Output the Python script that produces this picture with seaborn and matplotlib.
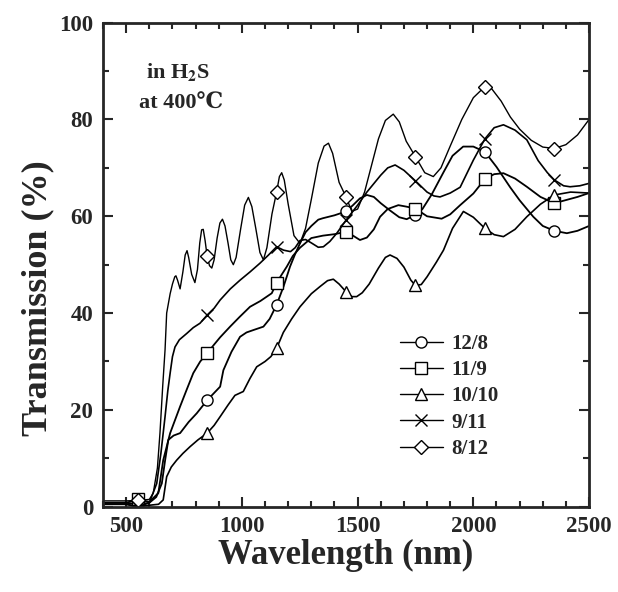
import numpy as np
import pandas as pd
import seaborn as sns
import matplotlib
matplotlib.use("Agg")
import matplotlib.pyplot as plt
from matplotlib.lines import Line2D
from matplotlib.ticker import MultipleLocator

# Transmission spectra in H2S at 400 C
marker_wl = [550, 850, 1150, 1450, 1750, 2050, 2350]

wl_12_8 = [400, 500, 550, 600, 630, 654, 668, 682, 705, 733, 770, 805, 850, 880, 906, 920, 955,
           992, 1020, 1050, 1093, 1120, 1150, 1180, 1208, 1230, 1251, 1275, 1300, 1330, 1350,
           1400, 1450, 1480, 1510, 1540, 1570, 1600, 1640, 1680, 1712, 1750, 1780, 1820, 1870,
           1910, 1956, 2000, 2050, 2100, 2159, 2200, 2259, 2300, 2350, 2404, 2450, 2500]
tr_12_8 = [0.8, 0.8, 0.5, 0.8, 2, 4.8, 9.5, 13.8, 14.7, 15.2, 17.5, 19.3, 22, 23.5, 24.8, 28.2, 32,
           35.1, 36, 36.5, 37.2, 38.8, 41.7, 45.5, 49.6, 52.2, 54.4, 56.7, 58, 59.3, 59.6,
           60.2, 61, 62.3, 63.7, 64.4, 64, 62.7, 61.2, 59.8, 59.4, 60.3, 61.5, 64.5, 69,
           72.5, 74.4, 74.4, 73.3, 70.2, 66, 63.3, 59.9, 58, 57, 56.5, 57, 58]

wl_11_9 = [400, 500, 550, 600, 639, 660, 690, 733, 760, 790, 820, 850, 880, 906, 949, 990, 1035,
           1080, 1129, 1150, 1170, 1194, 1220, 1251, 1300, 1350, 1400, 1450, 1480, 1510, 1540,
           1570, 1597, 1630, 1676, 1710, 1750, 1800, 1863, 1900, 1943, 2000, 2050, 2090, 2130,
           2180, 2231, 2290, 2350, 2404, 2450, 2500]
tr_11_9 = [0.8, 0.8, 1.5, 1.0, 2.8, 9.6, 15.2, 20.7, 24, 27.6, 30, 31.7, 33.5, 35, 37.2, 39.2, 41.3,
           42.5, 44.1, 46.2, 47.8, 49.6, 51.8, 53.5, 55.5, 56, 56.3, 56.8, 56, 55.1, 55.6,
           57.3, 59.9, 61.5, 62.3, 62, 61.6, 60, 59.5, 60.4, 62.3, 64.7, 67.7, 68.7, 68.9,
           67.8, 66.1, 64, 62.7, 63.4, 64, 64.8]

wl_10_10 = [400, 500, 550, 600, 640, 660, 675, 695, 718, 745, 776, 810, 850, 880, 906, 940, 970,
            1006, 1035, 1064, 1100, 1125, 1150, 1179, 1215, 1251, 1300, 1338, 1370, 1395, 1420,
            1450, 1475, 1496, 1520, 1550, 1590, 1620, 1640, 1670, 1700, 1730, 1750, 1775, 1800,
            1840, 1871, 1910, 1957, 2000, 2050, 2090, 2130, 2180, 2231, 2290, 2350, 2420, 2500]
tr_10_10 = [0.5, 0.5, 0, 0.3, 0.5, 1.4, 6.2, 8.2, 9.6, 11, 12.4, 13.8, 15.2, 16.8, 18.6, 21, 23,
            23.8, 26.5, 28.9, 30, 31, 32.7, 36, 38.8, 41.3, 44, 45.5, 46.7, 47, 46,
            44.4, 43.4, 43.4, 44.2, 46, 49.3, 51.5, 52, 51.3, 49.5, 46.8, 45.7, 45.9, 47.5,
            50.5, 53, 57.5, 61, 59.8, 57.5, 56.2, 55.8, 57.3, 59.9, 62.5, 64.4, 65, 64.8]

wl_9_11 = [400, 500, 550, 600, 632, 650, 668, 680, 690, 700, 711, 730, 762, 790, 819, 850, 880,
           906, 950, 992, 1035, 1078, 1115, 1150, 1180, 1210, 1230, 1251, 1275, 1300, 1330, 1352,
           1380, 1410, 1450, 1500, 1540, 1600, 1630, 1662, 1700, 1750, 1800, 1830, 1856, 1900,
           1943, 2000, 2050, 2090, 2130, 2180, 2231, 2280, 2320, 2350, 2390, 2418, 2460, 2500]
tr_9_11 = [0.5, 0.5, 0, 0.8, 4.8, 11, 18.6, 24, 27.6, 31, 33, 34.5, 35.8, 37, 37.9, 39.6, 41,
           42.7, 45, 46.8, 48.5, 50.3, 52, 53.7, 53, 52.7, 53.5, 55, 55.2, 54.5, 53.6, 53.7,
           54.8, 56.5, 59.2, 62.3, 65, 68.5, 70, 70.6, 69.5, 67.3, 65, 64.2, 64, 64.8,
           66, 71.6, 76, 78.3, 78.9, 77.8, 75.8, 71.5, 69, 67.5, 66.3, 66.1, 66.3, 66.8]

wl_8_12 = [400, 500, 550, 600, 617, 635, 646, 658, 668, 675, 690, 700, 710, 715, 722, 733, 745,
           755, 763, 770, 783, 797, 808, 818, 826, 833, 841, 850, 860, 870, 880, 893, 905, 916,
           927, 940, 952, 963, 975, 995, 1012, 1028, 1043, 1060, 1078, 1093, 1108, 1130, 1150,
           1162, 1172, 1183, 1200, 1225, 1251, 1275, 1300, 1330, 1355, 1374, 1392, 1420, 1450,
           1475, 1500, 1530, 1560, 1590, 1620, 1654, 1680, 1710, 1750, 1790, 1827, 1860, 1900,
           1950, 2000, 2050, 2080, 2120, 2160, 2200, 2250, 2300, 2350, 2400, 2450, 2500]
tr_8_12 = [1.2, 1.2, 1.3, 1.5, 2.8, 8, 15.2, 25, 32.4, 40, 44, 46, 47.5, 47.7, 46.8, 45, 48.5,
           52, 52.9, 51.5, 48, 46.3, 49, 54.5, 57.2, 57.3, 55, 51.7, 49.8, 49.3, 51, 55.5, 58.6, 59.4,
           58, 54.5, 51, 50, 51.5, 57.5, 62.3, 63.9, 62, 57.5, 52.5, 51, 53.5, 60.5, 65,
           68.2, 69, 67.5, 62.5, 56, 54.4, 57.5, 63.5, 71, 74.5, 75.1, 73, 67, 64,
           61, 61.5, 65, 70.5, 76, 79.8, 81.1, 79.5, 75.5, 72.3, 69, 68.2, 70, 74.5,
           80, 84.5, 86.8, 86.3, 83.8, 80.5, 78, 75.7, 74.3, 74, 74.8, 76.8, 80]

labels = ["12/8", "11/9", "10/10", "9/11", "8/12"]
markers = ["o", "s", "^", "x", "D"]
series = [(wl_12_8, tr_12_8), (wl_11_9, tr_11_9), (wl_10_10, tr_10_10),
          (wl_9_11, tr_9_11), (wl_8_12, tr_8_12)]
widths = [1.3, 1.3, 1.2, 1.2, 1.0]

sns.set_style("ticks")
plt.rcParams['font.family'] = ['Liberation Serif', 'DejaVu Serif', 'Noto Sans CJK JP']
plt.rcParams['font.weight'] = 'bold'
plt.rcParams['mathtext.fontset'] = 'stix'

fig = plt.figure(figsize=(6.18, 5.92), dpi=100)
ax = fig.add_axes([0.1667, 0.1441, 0.7865, 0.8176])

handles = []
for (wl, tr), lab, mk, lw in zip(series, labels, markers, widths):
    df = pd.DataFrame({"wl": wl, "tr": tr})
    idx = [wl.index(m) for m in marker_wl]
    ms = 7 if mk == "D" else 8
    sns.lineplot(data=df, x="wl", y="tr", ax=ax, color="black", lw=lw,
                 marker=mk, markevery=idx, markersize=ms, markerfacecolor="white",
                 markeredgecolor="black", markeredgewidth=1.0, sort=False)
    handles.append(Line2D([], [], color="black", lw=1.0, marker=mk, markersize=ms,
                          markerfacecolor="white", markeredgecolor="black",
                          markeredgewidth=1.0, label=lab))

ax.set_xlim(400, 2500)
ax.set_ylim(0, 100)
ax.xaxis.set_major_locator(MultipleLocator(500))
ax.xaxis.set_minor_locator(MultipleLocator(100))
ax.yaxis.set_major_locator(MultipleLocator(20))
ax.yaxis.set_minor_locator(MultipleLocator(10))
ax.tick_params(which="both", direction="in", top=True, right=True, width=1.5, labelsize=16.5)
ax.tick_params(which="major", length=7, pad=7)
ax.tick_params(which="minor", length=4.5)
for s in ax.spines.values():
    s.set_linewidth(2)
    s.set_visible(True)
for lbl in ax.get_xticklabels() + ax.get_yticklabels():
    lbl.set_fontweight("bold")

ax.set_xlabel("Wavelength (nm)", fontsize=25, fontweight="bold", labelpad=1)
ax.set_ylabel("Transmission (%)", fontsize=26, fontweight="bold")
ax.yaxis.set_label_coords(-0.1, 0.43)

ax.text(0.088, 0.898, r"in H$_{\mathbf{2}}$S", transform=ax.transAxes, fontsize=16,
        fontweight="bold", va="center", ha="left")
ax.text(0.074, 0.832, "at 400℃", transform=ax.transAxes, fontsize=16,
        fontweight="bold", va="center", ha="left")

leg = ax.legend(handles=handles, loc="upper left", bbox_to_anchor=(0.61, 0.357),
                frameon=False, fontsize=15, handlelength=2.1, handletextpad=0.4,
                labelspacing=0.3, borderpad=0, borderaxespad=0)
for t in leg.get_texts():
    t.set_fontweight("bold")

fig.savefig("out.png", dpi=100)
